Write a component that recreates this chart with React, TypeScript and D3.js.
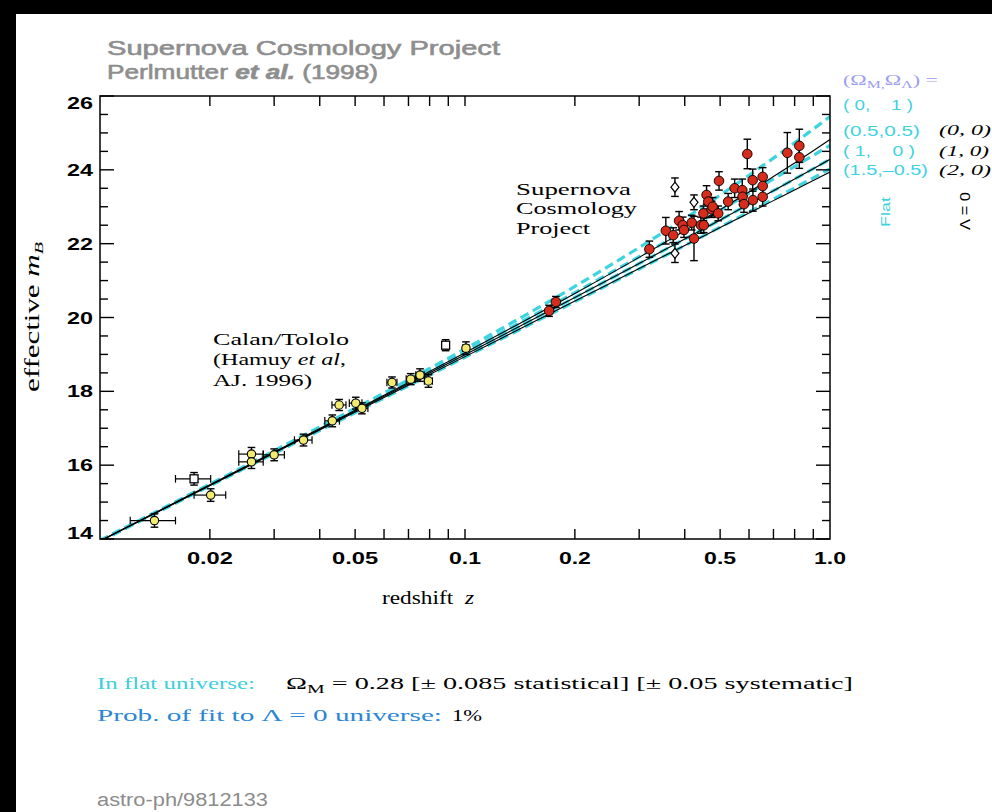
import React from "react";
import * as d3 from "d3";

// ---------------- data ----------------
const X_DOMAIN = [0.01, 1.0];
const Y_DOMAIN = [14, 26];
const X_MINOR_TICKS = [0.02, 0.03, 0.04, 0.05, 0.06, 0.07, 0.08, 0.09, 0.1, 0.2, 0.3, 0.4, 0.5, 0.6, 0.7, 0.8, 0.9];
const X_LABEL_TICKS = [0.02, 0.05, 0.1, 0.2, 0.5, 1.0];
const X_TICK_LABELS = ["0.02", "0.05", "0.1", "0.2", "0.5", "1.0"];
const Y_MINOR_TICKS = [14.5, 15, 15.5, 16.5, 17, 17.5, 18.5, 19, 19.5, 20.5, 21, 21.5, 22.5, 23, 23.5, 24.5, 25, 25.5];
const Y_MAJOR_TICKS = [14, 16, 18, 20, 22, 24, 26];
const Y_TICK_LABELS = ["14", "16", "18", "20", "22", "24", "26"];

// model curves (effective m_B vs z)
const MODEL_Z = [0.01, 0.03, 0.1, 0.2, 0.3, 0.4, 0.5, 0.6, 0.7, 0.8, 0.9, 1.0];
const FLAT_0_1 = [13.962, 16.39, 19.147, 20.841, 21.895, 22.681, 23.315, 23.851, 24.318, 24.732, 25.105, 25.445];
const FLAT_05_05 = [13.954, 16.366, 19.065, 20.676, 21.648, 22.352, 22.906, 23.363, 23.752, 24.091, 24.391, 24.66];
const FLAT_1_0 = [13.945, 16.342, 18.991, 20.542, 21.463, 22.125, 22.644, 23.071, 23.435, 23.751, 24.032, 24.284];
const FLAT_15_m05 = [13.937, 16.317, 18.924, 20.428, 21.315, 21.95, 22.447, 22.857, 23.207, 23.512, 23.783, 24.026];
const OPEN_0_0 = [13.951, 16.358, 19.046, 20.652, 21.629, 22.346, 22.919, 23.4, 23.817, 24.186, 24.518, 24.82];
const EDS_1_0 = [13.945, 16.342, 18.991, 20.542, 21.463, 22.125, 22.644, 23.071, 23.435, 23.751, 24.032, 24.284];
const CLOSED_2_0 = [13.94, 16.326, 18.94, 20.445, 21.326, 21.95, 22.435, 22.831, 23.166, 23.455, 23.711, 23.94];
const FLAT_CURVES = [FLAT_0_1, FLAT_05_05, FLAT_1_0, FLAT_15_m05];
const LAMBDA0_CURVES = [OPEN_0_0, EDS_1_0, CLOSED_2_0];

// Calan/Tololo: [z, m, sigma_m, kind]  (kind: y = filled yellow, o = open square)
const CALAN_TOLOLO = [
  [0.0141, 14.5, 0.18, "y"],
  [0.0181, 15.63, 0.17, "o"],
  [0.0201, 15.19, 0.17, "y"],
  [0.026, 16.3, 0.18, "y"],
  [0.026, 16.09, 0.18, "y"],
  [0.03, 16.28, 0.16, "y"],
  [0.0361, 16.68, 0.16, "y"],
  [0.0433, 17.2, 0.16, "y"],
  [0.0452, 17.63, 0.15, "y"],
  [0.0502, 17.68, 0.16, "y"],
  [0.0522, 17.54, 0.15, "y"],
  [0.0631, 18.24, 0.15, "y"],
  [0.071, 18.33, 0.15, "y"],
  [0.0753, 18.44, 0.17, "y"],
  [0.0794, 18.28, 0.17, "y"],
  [0.0885, 19.25, 0.15, "o"],
  [0.1006, 19.17, 0.17, "y"],
];
const CALAN_TOLOLO_DZ = [0.002, 0.002, 0.002, 0.002, 0.002, 0.002, 0.002, 0.002, 0.002, 0.002, 0.002, 0.002, 0.002, 0.002, 0.002, 0.002, 0.002];

// Supernova Cosmology Project: [z, m, sigma_m]
const SCP = [
  [0.17, 20.18, 0.15],
  [0.1774, 20.42, 0.15],
  [0.32, 21.85, 0.22],
  [0.355, 22.35, 0.36],
  [0.372, 22.23, 0.2],
  [0.386, 22.62, 0.25],
  [0.395, 22.5, 0.22],
  [0.398, 22.37, 0.2],
  [0.418, 22.57, 0.2],
  [0.424, 22.14, 0.6],
  [0.443, 22.5, 0.22],
  [0.45, 22.82, 0.2],
  [0.451, 22.5, 0.2],
  [0.459, 23.32, 0.25],
  [0.464, 23.14, 0.2],
  [0.474, 22.93, 0.22],
  [0.477, 23.0, 0.25],
  [0.494, 22.82, 0.2],
  [0.4965, 23.7, 0.25],
  [0.526, 23.14, 0.22],
  [0.548, 23.5, 0.25],
  [0.575, 23.45, 0.3],
  [0.576, 23.27, 0.22],
  [0.581, 23.07, 0.22],
  [0.5935, 24.43, 0.4],
  [0.614, 23.72, 0.3],
  [0.615, 23.18, 0.3],
  [0.654, 23.81, 0.25],
  [0.654, 23.56, 0.25],
  [0.654, 23.27, 0.25],
  [0.764, 24.46, 0.55],
  [0.824, 24.65, 0.45],
  [0.824, 24.34, 0.3],
];
// open diamonds
const SCP_EXCLUDED = [
  [0.376, 23.53, 0.25],
  [0.376, 21.74, 0.25],
  [0.424, 23.12, 0.2],
];

// ---------------- layout ----------------
const W = 992;
const H = 812;
const L = 100, R = 830, T = 96, B = 539;

const CYAN = "#3dd3e0";
const RED = "#d62c1c";
const YELLOW = "#f3ea70";
const SANS = "'Liberation Sans', Arial, sans-serif";
const SERIF = "'Liberation Serif', 'Times New Roman', serif";

function Txt({ x, y, w, size, family, fill = "#000", anchor = "start", weight = "normal", italic = false, rotate = 0, thick = 0, children }: any) {
  const tr = rotate ? `translate(${x},${y}) rotate(${rotate})` : `translate(${x},${y})`;
  return (
    <text
      transform={tr}
      fontSize={size}
      fontFamily={family}
      fill={fill}
      stroke={thick ? fill : "none"}
      strokeWidth={thick || 0}
      textAnchor={anchor}
      fontWeight={weight}
      fontStyle={italic ? "italic" : "normal"}
      textLength={w}
      lengthAdjust="spacingAndGlyphs"
      style={{ whiteSpace: "pre" }}
    >
      {children}
    </text>
  );
}

export default function App() {
  const x = d3.scaleLog().domain(X_DOMAIN).range([L, R]);
  const y = d3.scaleLinear().domain(Y_DOMAIN).range([B, T]);
  const line = d3
    .line<number>()
    .x((_, i) => x(MODEL_Z[i]))
    .y((d) => y(d))
    .curve(d3.curveMonotoneX);

  const cap = 3.8;
  const vErr = (z: number, m: number, s: number, key: string) => {
    const cx = x(z);
    const y1 = y(m - s), y2 = y(m + s);
    return (
      <g key={key} stroke="#000" strokeWidth={1.4}>
        <line x1={cx} x2={cx} y1={y1} y2={y2} />
        <line x1={cx - cap} x2={cx + cap} y1={y1} y2={y1} />
        <line x1={cx - cap} x2={cx + cap} y1={y2} y2={y2} />
      </g>
    );
  };
  const hErr = (z: number, m: number, dz: number, key: string) => {
    const cy = y(m);
    const x1 = x(z - dz), x2 = x(z + dz);
    return (
      <g key={key} stroke="#000" strokeWidth={1.2}>
        <line x1={x1} x2={x2} y1={cy} y2={cy} />
        <line x1={x1} x2={x1} y1={cy - cap} y2={cy + cap} />
        <line x1={x2} x2={x2} y1={cy - cap} y2={cy + cap} />
      </g>
    );
  };

  return (
    <svg width={W} height={H} style={{ position: "absolute", left: 0, top: 0, background: "#fff" }}>
      <defs>
        <clipPath id="plotclip">
          <rect x={L} y={T} width={R - L} height={B - T} />
        </clipPath>
      </defs>
      <rect x={0} y={0} width={W} height={H} fill="#fff" />
      <rect x={0} y={0} width={W} height={14} fill="#000" />
      <rect x={0} y={0} width={16} height={H} fill="#000" />

      {/* title */}
      <Txt x={107} y={55} w={393} size={20} family={SANS} fill="#8e8e8e" thick={0.6}>
        Supernova Cosmology Project
      </Txt>
      <Txt x={107} y={79} w={271} size={20} family={SANS} fill="#8e8e8e" thick={0.6}>
        Perlmutter <tspan fontStyle="italic" fontWeight="bold">et al.</tspan> (1998)
      </Txt>

      {/* model curves */}
      <g clipPath="url(#plotclip)" fill="none">
        {FLAT_CURVES.map((c, i) => (
          <path key={"f" + i} d={line(c) || ""} stroke={CYAN} strokeWidth={3.2} strokeDasharray="9,5" />
        ))}
        {LAMBDA0_CURVES.map((c, i) => (
          <path key={"l" + i} d={line(c) || ""} stroke="#000" strokeWidth={1.1} />
        ))}
      </g>

      {/* Calan/Tololo */}
      <g>
        {CALAN_TOLOLO.map((d: any, i) => hErr(d[0], d[1], CALAN_TOLOLO_DZ[i], "ch" + i))}
        {CALAN_TOLOLO.map((d: any, i) => vErr(d[0], d[1], d[2], "cv" + i))}
        {CALAN_TOLOLO.map((d: any, i) =>
          d[3] === "o" ? (
            <rect key={"cm" + i} x={x(d[0]) - 4} y={y(d[1]) - 4} width={8} height={8} fill="#fff" stroke="#000" strokeWidth={1.3} />
          ) : (
            <circle key={"cm" + i} cx={x(d[0])} cy={y(d[1])} r={4.2} fill={YELLOW} stroke="#000" strokeWidth={1.1} />
          )
        )}
      </g>

      {/* SCP */}
      <g>
        {SCP_EXCLUDED.map((d, i) => vErr(d[0], d[1], d[2], "ev" + i))}
        {SCP.map((d, i) => vErr(d[0], d[1], d[2], "sv" + i))}
        {SCP_EXCLUDED.map((d, i) => {
          const cx = x(d[0]), cy = y(d[1]);
          return (
            <path key={"em" + i} d={`M${cx},${cy - 5}L${cx + 4},${cy}L${cx},${cy + 5}L${cx - 4},${cy}Z`} fill="#fff" stroke="#000" strokeWidth={1.2} />
          );
        })}
        {SCP.map((d, i) => (
          <circle key={"sm" + i} cx={x(d[0])} cy={y(d[1])} r={4.8} fill={RED} stroke="#000" strokeWidth={0.9} />
        ))}
      </g>

      {/* frame and ticks */}
      <rect x={L} y={T} width={R - L} height={B - T} fill="none" stroke="#000" strokeWidth={1.5} />
      <g stroke="#000" strokeWidth={1.4}>
        {X_MINOR_TICKS.map((t) => (
          <g key={"xt" + t}>
            <line x1={x(t)} x2={x(t)} y1={B} y2={B - 10} />
            <line x1={x(t)} x2={x(t)} y1={T} y2={T + 10} />
          </g>
        ))}
        {Y_MINOR_TICKS.map((t) => (
          <g key={"ym" + t}>
            <line x1={L} x2={L + 8} y1={y(t)} y2={y(t)} />
            <line x1={R} x2={R - 8} y1={y(t)} y2={y(t)} />
          </g>
        ))}
        {Y_MAJOR_TICKS.map((t) => (
          <g key={"yM" + t}>
            <line x1={L} x2={L + 14} y1={y(t)} y2={y(t)} />
            <line x1={R} x2={R - 14} y1={y(t)} y2={y(t)} />
          </g>
        ))}
      </g>

      {/* tick labels */}
      {Y_MAJOR_TICKS.map((t, i) => {
        const base = t === 26 ? y(t) + 13 : t === 14 ? y(t) : y(t) + 6;
        return (
          <Txt key={"yl" + t} x={93} y={base} w={26} size={17} family={SANS} anchor="end" weight="bold">
            {Y_TICK_LABELS[i]}
          </Txt>
        );
      })}
      {X_LABEL_TICKS.map((t, i) => (
        <Txt key={"xl" + t} x={x(t)} y={564} w={X_TICK_LABELS[i].length > 3 ? 46 : 32} size={16} family={SANS} anchor="middle" weight="bold">
          {X_TICK_LABELS[i]}
        </Txt>
      ))}

      {/* axis titles */}
      <Txt x={428} y={604} w={92} size={19} family={SERIF} anchor="middle">
        redshift  <tspan fontStyle="italic">z</tspan>
      </Txt>
      <Txt x={39} y={317} w={150} size={20} family={SERIF} anchor="middle" rotate={-90}>
        effective <tspan fontStyle="italic">m</tspan>
        <tspan fontStyle="italic" fontSize={13} dy={4}>B</tspan>
      </Txt>

      {/* annotations */}
      <Txt x={516} y={195} w={115} size={17} family={SERIF}>Supernova</Txt>
      <Txt x={516} y={214} w={121} size={17} family={SERIF}>Cosmology</Txt>
      <Txt x={516} y={234} w={74} size={17} family={SERIF}>Project</Txt>

      <Txt x={213} y={345} w={136} size={17} family={SERIF}>Calan/Tololo</Txt>
      <Txt x={213} y={365} w={133} size={17} family={SERIF}>
        (Hamuy <tspan fontStyle="italic">et al</tspan>,
      </Txt>
      <Txt x={213} y={386} w={99} size={17} family={SERIF}>AJ. 1996)</Txt>

      {/* legend */}
      <Txt x={843} y={85} w={95} size={14} family={SERIF} fill="#9c9cf2">
        (Ω<tspan fontSize={10} dy={3}>M,</tspan>
        <tspan dy={-3}>Ω</tspan>
        <tspan fontSize={10} dy={3}>Λ</tspan>
        <tspan dy={-3}>) =</tspan>
      </Txt>
      <Txt x={843} y={110} w={70} size={15} family={SANS} fill={CYAN}>{"( 0,    1 )"}</Txt>
      <Txt x={843} y={136} w={77} size={15} family={SANS} fill={CYAN}>(0.5,0.5)</Txt>
      <Txt x={843} y={156} w={72} size={15} family={SANS} fill={CYAN}>{"( 1,    0 )"}</Txt>
      <Txt x={843} y={175} w={85} size={15} family={SANS} fill={CYAN}>(1.5,–0.5)</Txt>
      <Txt x={939} y={135} w={52} size={15} family={SERIF} italic>(0, 0)</Txt>
      <Txt x={939} y={156} w={50} size={15} family={SERIF} italic>(1, 0)</Txt>
      <Txt x={939} y={175} w={52} size={15} family={SERIF} italic>(2, 0)</Txt>
      <Txt x={890} y={212} w={30} size={13} family={SANS} fill={CYAN} anchor="middle" rotate={-90}>Flat</Txt>
      <Txt x={970} y={211} w={38} size={15} family={SANS} anchor="middle" rotate={-90}>Λ = 0</Txt>

      {/* bottom text */}
      <Txt x={97} y={689} w={158} size={17} family={SERIF} fill="#3ccfdc">In flat universe:</Txt>
      <Txt x={286} y={689} w={567} size={17} family={SERIF}>
        Ω<tspan fontSize={12} dy={4}>M</tspan>
        <tspan dy={-4}> = 0.28 [± 0.085 statistical] [± 0.05 systematic]</tspan>
      </Txt>
      <Txt x={97} y={721} w={345} size={17} family={SERIF} fill="#2b86d6">Prob. of fit to Λ = 0 universe:</Txt>
      <Txt x={452} y={721} w={30} size={17} family={SERIF}>1%</Txt>

      <Txt x={97} y={806} w={171} size={18} family={SANS} fill="#8c8c8c">astro-ph/9812133</Txt>
    </svg>
  );
}
